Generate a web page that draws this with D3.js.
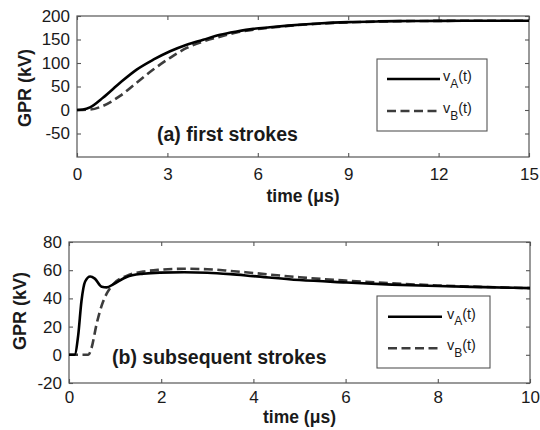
<!DOCTYPE html>
<html>
<head>
<meta charset="utf-8">
<script src="https://cdn.jsdelivr.net/npm/d3@7"></script>
<style>
  html, body { margin: 0; padding: 0; background: #fff; }
  svg { display: block; font-family: "Liberation Sans", Arial, Helvetica, sans-serif; }
</style>
</head>
<body>
<svg id="chart" width="540" height="430"></svg>
<script>
// ---------- data: (a) first strokes ----------
const timeA = [0, 0.2, 0.43, 0.87, 1.43, 1.98, 2.53, 3.09, 3.64, 4.19, 4.75, 5.3, 5.85, 6.4, 7, 8, 9, 10, 11, 12, 13.5, 15];
const vA_first = [0, 1, 5.7, 26.7, 58, 86, 107, 125, 139, 149.5, 160, 167, 172.6, 176, 179.5, 184, 187, 188.5, 189.3, 189.7, 190, 190];
const timeB = [0, 0.43, 0.87, 1.43, 1.98, 2.53, 3.09, 3.64, 4.19, 4.75, 5.3, 5.85, 6.4, 7, 8, 9, 10, 11, 12, 13.5, 15];
const vB_first = [0, 1, 9, 30, 58, 86, 111, 132, 146, 156, 165, 171, 175, 179, 183.5, 186.5, 188.2, 189.2, 189.6, 190, 190];
const xTicksA = [0, 3, 6, 9, 12, 15];
const yTicksA = [-50, 0, 50, 100, 150, 200];

// ---------- data: (b) subsequent strokes ----------
const timeSA = [0, 0.12, 0.2, 0.27, 0.35, 0.46, 0.56, 0.71, 0.82, 0.96, 1.25, 1.61, 1.97, 2.5, 3, 3.5, 4, 5, 6, 7, 8, 9, 10];
const vA_sub = [0, 0, 14, 38, 52, 55.5, 54, 48.3, 47.8, 50, 55.2, 57.5, 58.3, 58.5, 58.2, 57.2, 55.8, 53, 51.3, 49.8, 48.8, 48, 47.3];
const timeSB = [0, 0.42, 0.49, 0.6, 0.71, 0.82, 0.93, 1.25, 1.61, 1.97, 2.5, 3, 3.5, 4, 5, 6, 7, 8, 9, 10];
const vB_sub = [0, 0, 5, 22, 35, 43.5, 49, 56, 59, 60.3, 61, 60.7, 59.5, 58, 55, 52.6, 50.7, 49.2, 48.1, 47.3];
const xTicksB = [0, 2, 4, 6, 8, 10];
const yTicksB = [-20, 0, 20, 40, 60, 80];

const seriesNames = ["A", "B"];
const xLabel = "time (\u03bcs)";
const yLabel = "GPR (kV)";

const svg = d3.select("#chart");
const frameColor = "#555";
const textColor = "#1a1a1a";
const fmt = d => String(d);

function panel(cfg) {
  const x = d3.scaleLinear().domain(cfg.xDomain).range([cfg.left, cfg.right]);
  const y = d3.scaleLinear().domain(cfg.yDomain).range([cfg.bottom, cfg.top]);
  const g = svg.append("g");

  // frame
  g.append("rect")
    .attr("x", cfg.left).attr("y", cfg.top)
    .attr("width", cfg.right - cfg.left).attr("height", cfg.bottom - cfg.top)
    .attr("fill", "none").attr("stroke", frameColor).attr("stroke-width", 1.2);

  const styleAxis = (sel) => {
    sel.select(".domain").remove();
    sel.selectAll(".tick line").attr("stroke", frameColor).attr("stroke-width", 1.1);
    sel.selectAll(".tick text").attr("fill", textColor)
      .style("font-size", "17px");
  };

  g.append("g").attr("transform", `translate(0,${cfg.bottom})`)
    .call(d3.axisBottom(x).tickValues(cfg.xTicks).tickSize(-4).tickPadding(cfg.xPad).tickFormat(fmt))
    .call(styleAxis);
  g.append("g").attr("transform", `translate(0,${cfg.top})`)
    .call(d3.axisTop(x).tickValues(cfg.xTicks).tickSize(-4).tickFormat(""))
    .call(styleAxis);
  g.append("g").attr("transform", `translate(${cfg.left},0)`)
    .call(d3.axisLeft(y).tickValues(cfg.yTicks).tickSize(-4).tickPadding(7).tickFormat(fmt))
    .call(styleAxis);
  g.append("g").attr("transform", `translate(${cfg.right},0)`)
    .call(d3.axisRight(y).tickValues(cfg.yTicks).tickSize(-4).tickFormat(""))
    .call(styleAxis);

  // curves
  const line = d3.line().x(d => x(d[0])).y(d => y(d[1])).curve(d3.curveMonotoneX);
  g.append("path")
    .datum(cfg.tB.map((t, i) => [t, cfg.vB[i]]))
    .attr("d", line).attr("fill", "none")
    .attr("stroke", "#3c3c3c").attr("stroke-width", 2.6)
    .attr("stroke-dasharray", "9,4.5");
  g.append("path")
    .datum(cfg.tA.map((t, i) => [t, cfg.vA[i]]))
    .attr("d", line).attr("fill", "none")
    .attr("stroke", "#000").attr("stroke-width", 2.6);

  // axis labels
  g.append("text")
    .attr("x", (cfg.left + cfg.right) / 2).attr("y", cfg.xLabelY)
    .attr("text-anchor", "middle").attr("fill", textColor)
    .style("font-size", "17.5px").style("font-weight", "bold")
    .text(xLabel);
  g.append("text")
    .attr("transform", `translate(${cfg.yLabelX},${cfg.yLabelY}) rotate(-90)`)
    .attr("text-anchor", "middle").attr("dy", "0.36em").attr("fill", textColor)
    .style("font-size", "18px").style("font-weight", "bold")
    .text(yLabel);

  // annotation
  g.append("text")
    .attr("x", cfg.noteX).attr("y", cfg.noteY).attr("fill", textColor)
    .style("font-size", "19.5px").style("font-weight", "bold")
    .text(cfg.note);

  // legend
  const L = cfg.legend;
  g.append("rect")
    .attr("x", L.x0).attr("y", L.y0).attr("width", L.x1 - L.x0).attr("height", L.y1 - L.y0)
    .attr("fill", "#fff").attr("stroke", frameColor).attr("stroke-width", 1.1);
  seriesNames.forEach((name, i) => {
    const ly = L.rows[i];
    g.append("line")
      .attr("x1", L.lx0).attr("x2", L.lx1).attr("y1", ly).attr("y2", ly)
      .attr("stroke", i === 0 ? "#000" : "#3c3c3c").attr("stroke-width", 2.6)
      .attr("stroke-dasharray", i === 0 ? null : "9,4.5");
    const t = g.append("text")
      .attr("x", L.tx).attr("y", ly + 2).attr("fill", textColor)
      .style("font-size", "14.5px");
    t.append("tspan").text("v");
    t.append("tspan").attr("dy", 6.5).style("font-size", "12px").text(name);
    t.append("tspan").attr("dy", -6.5).text("(t)");
  });
}

panel({
  xDomain: [0, 15], yDomain: [-100, 200],
  left: 77, right: 529, top: 16, bottom: 157,
  xTicks: xTicksA, yTicks: yTicksA, xPad: 11,
  tA: timeA, vA: vA_first, tB: timeB, vB: vB_first,
  xLabelY: 202, yLabelX: 25, yLabelY: 88,
  note: "(a) first strokes", noteX: 157, noteY: 141,
  legend: { x0: 377, x1: 487, y0: 59, y1: 131, lx0: 387, lx1: 440, tx: 443, rows: [79, 111] }
});

panel({
  xDomain: [0, 10], yDomain: [-20, 80],
  left: 69, right: 530, top: 242, bottom: 383,
  xTicks: xTicksB, yTicks: yTicksB, xPad: 7.5,
  tA: timeSA, vA: vA_sub, tB: timeSB, vB: vB_sub,
  xLabelY: 423, yLabelX: 20, yLabelY: 311,
  note: "(b) subsequent strokes", noteX: 112, noteY: 364,
  legend: { x0: 377, x1: 490, y0: 296, y1: 368, lx0: 388, lx1: 442, tx: 447, rows: [316.7, 348.3] }
});
</script>
</body>
</html>
